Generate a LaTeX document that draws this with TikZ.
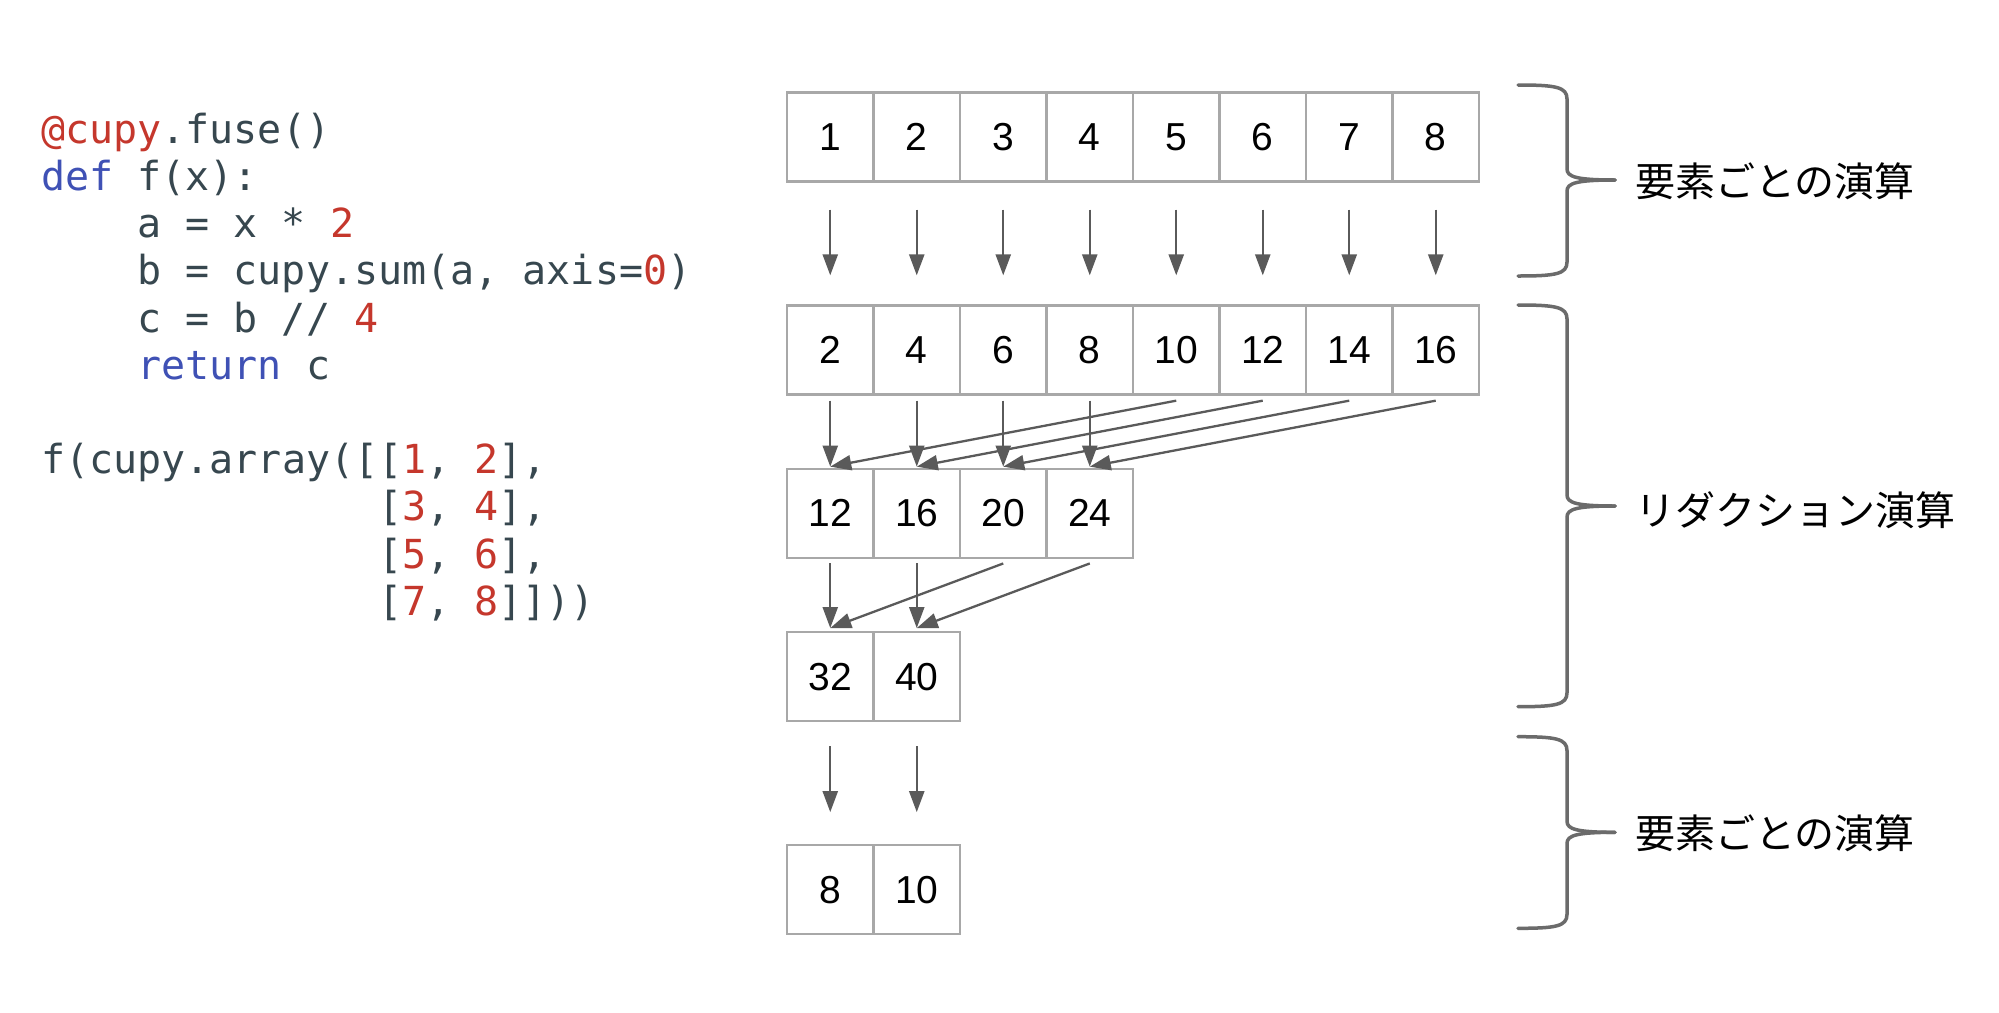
\documentclass[tikz,border=0pt]{standalone}
\usepackage{fontspec}
\setmainfont{Liberation Sans}
\setmonofont{DejaVu Sans Mono}
\newfontfamily\jpfont{Noto Sans CJK JP}
\usetikzlibrary{arrows.meta}
\definecolor{codefg}{HTML}{37474F}
\definecolor{codered}{HTML}{C5372C}
\definecolor{codeblue}{HTML}{3F51B5}
\definecolor{cellline}{HTML}{A8A8A8}
\definecolor{arrowc}{HTML}{5A5A5A}
\definecolor{bracec}{HTML}{6B6B6B}
\tikzset{
  cell/.style={draw=cellline, line width=2.3pt, minimum width=86.5pt, minimum height=89pt,
    inner sep=0pt, font=\fontsize{39}{39}\selectfont, text=black},
  arr/.style={draw=arrowc, line width=2.3pt, -{Triangle[length=21pt,width=15pt]}},
  codeline/.style={anchor=base west, inner sep=0pt, font=\ttfamily\fontsize{40}{47}\selectfont, text=codefg},
  bracepath/.style={draw=bracec, line width=3.5pt, line cap=round, line join=round},
  lbl/.style={anchor=west, inner sep=0pt, font=\jpfont\fontsize{40}{40}\selectfont, text=black}
}
\newcommand\cR[1]{\textcolor{codered}{#1}}
\newcommand\cB[1]{\textcolor{codeblue}{#1}}
\newcommand\drawbrace[3]{%
  \draw[bracepath] (1518,#1) .. controls (1556,#1) and (1567,{#1+2}) .. (1567,{#1+14})
    -- (1567,{#2-11}) .. controls (1567,{#2-3}) and (1577,#2) .. (1615,#2);
  \draw[bracepath] (1615,#2) .. controls (1577,#2) and (1567,{#2+3}) .. (1567,{#2+11})
    -- (1567,{#3-14}) .. controls (1567,{#3-2}) and (1556,#3) .. (1518,#3);}
\begin{document}
\begin{tikzpicture}[x=1pt,y=-1pt]
\useasboundingbox (0,0) rectangle (1999,1012);
\fill[white] (0,0) rectangle (1999,1012);

% code
\node[codeline] (code1) at (41,143.3) {\cR{@cupy}.fuse()};
\node[codeline] (code2) at (41,190.5) {\cB{def} f(x):};
\node[codeline] (code3) at (137.3,237.7) {a = x * \cR{2}};
\node[codeline] (code4) at (137.3,284.9) {b = cupy.sum(a, axis=\cR{0})};
\node[codeline] (code5) at (137.3,332.1) {c = b // \cR{4}};
\node[codeline] (code6) at (137.3,379.3) {\cB{return} c};
\node[codeline] (code7) at (41,473.7) {f(cupy.array([[\cR{1}, \cR{2}],};
\node[codeline] (code8) at (378.1,520.9) {[\cR{3}, \cR{4}],};
\node[codeline] (code9) at (378.1,568.1) {[\cR{5}, \cR{6}],};
\node[codeline] (code10) at (378.1,615.3) {[\cR{7}, \cR{8}]]))};

% cells
\foreach \v [count=\i] in {1,2,3,4,5,6,7,8}
  \node[cell] (r1c\i) at ({787+86.5*(\i-0.5)},137) {\v};
\foreach \v [count=\i] in {2,4,6,8,10,12,14,16}
  \node[cell] (r2c\i) at ({787+86.5*(\i-0.5)},350) {\v};
\foreach \v [count=\i] in {12,16,20,24}
  \node[cell] (r3c\i) at ({787+86.5*(\i-0.5)},513.3) {\v};
\foreach \v [count=\i] in {32,40}
  \node[cell] (r4c\i) at ({787+86.5*(\i-0.5)},676.7) {\v};
\foreach \v [count=\i] in {8,10}
  \node[cell] (r5c\i) at ({787+86.5*(\i-0.5)},889.8) {\v};

% arrows
\foreach \i in {1,...,8}
  \draw[arr] ([yshift=-27pt]r1c\i.south) -- ([yshift=29pt]r2c\i.north);
\foreach \i in {1,...,8}{
  \pgfmathtruncatemacro\j{mod(\i-1,4)+1}
  \draw[arr] ([yshift=-5pt]r2c\i.south) -- ([yshift=1pt]r3c\j.north);}
\foreach \i in {1,...,4}{
  \pgfmathtruncatemacro\j{mod(\i-1,2)+1}
  \draw[arr] ([yshift=-4.5pt]r3c\i.south) -- ([yshift=3pt]r4c\j.north);}
\foreach \i in {1,2}
  \draw[arr] ([yshift=-24pt]r4c\i.south) -- ([yshift=32pt]r5c\i.north);

% braces
\drawbrace{85}{180}{276}
\drawbrace{305}{506}{706.7}
\drawbrace{736.7}{832.3}{928.3}

\node[lbl] (lab1) at (1635,181) {要素ごとの演算};
\node[lbl] (lab2) at (1635,510) {リダクション演算};
\node[lbl] (lab3) at (1635,833) {要素ごとの演算};
\end{tikzpicture}
\end{document}
